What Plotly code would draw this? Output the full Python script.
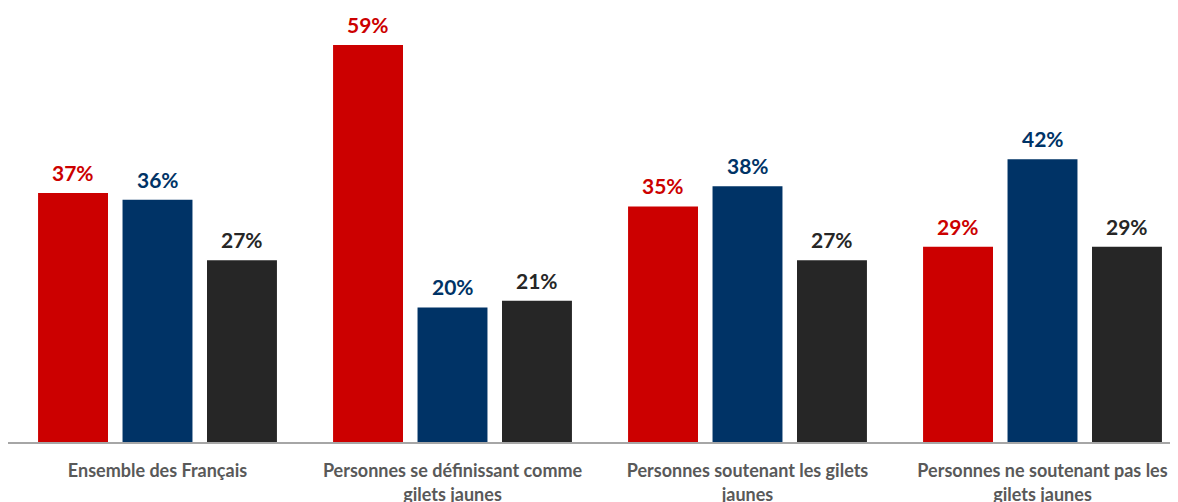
import plotly.graph_objects as go

categories = ["Ensemble des Français",
              "Personnes se définissant comme<br>gilets jaunes",
              "Personnes soutenant les gilets<br>jaunes",
              "Personnes ne soutenant pas les<br>gilets jaunes"]
series_names = ["Série 1", "Série 2", "Série 3"]
values_red = [37, 59, 35, 29]
values_blue = [36, 20, 38, 42]
values_dark = [27, 21, 27, 29]

series_values = [values_red, values_blue, values_dark]
bar_colors = ["#CC0000", "#003366", "#262626"]
text_colors = ["#CC0000", "#003366", "#262626"]

# page body has an 8px margin
W, H = 1170, 494
ml, mr, mt, mb = 0, 0, 0, 60
cat_px = 295.0
bargap = 0.141
bargroupgap = 0.172
plot_w = W - ml - mr
plot_h = H - mt - mb
x0 = -(157.5 - 8 - ml) / cat_px
x1 = x0 + plot_w / cat_px
slot = cat_px * (1 - bargap) / 3
px_per_unit = 6.73

fig = go.Figure()
for i, (name, vals) in enumerate(zip(series_names, series_values)):
    fig.add_trace(go.Bar(x=categories, y=vals, name=name,
                         marker=dict(color=bar_colors[i], line=dict(width=0))))
    for c, v in zip(categories, vals):
        fig.add_annotation(x=c, y=v, xref="x", yref="y", text=f"{v}%",
                           showarrow=False, yanchor="bottom",
                           xshift=(i - 1) * slot, yshift=6,
                           font=dict(family="Lato", size=21, color=text_colors[i], weight="bold"))

fig.update_layout(
    width=W, height=H,
    margin=dict(l=ml, r=mr, t=mt, b=mb, autoexpand=False),
    paper_bgcolor="white", plot_bgcolor="white",
    barmode="group", bargap=bargap, bargroupgap=bargroupgap,
    showlegend=False,
    xaxis=dict(range=[x0, x1], showline=True, linecolor="#A6A6A6", linewidth=1.5,
               automargin=False,
               ticks="outside", ticklen=12, tickcolor="rgba(0,0,0,0)",
               tickfont=dict(family="Lato", size=18, color="#595959", weight="bold"),
               showgrid=False, zeroline=False),
    yaxis=dict(range=[0, plot_h / px_per_unit], visible=False, showgrid=False,
               zeroline=False, automargin=False),
)
fig.write_html("out.html")
